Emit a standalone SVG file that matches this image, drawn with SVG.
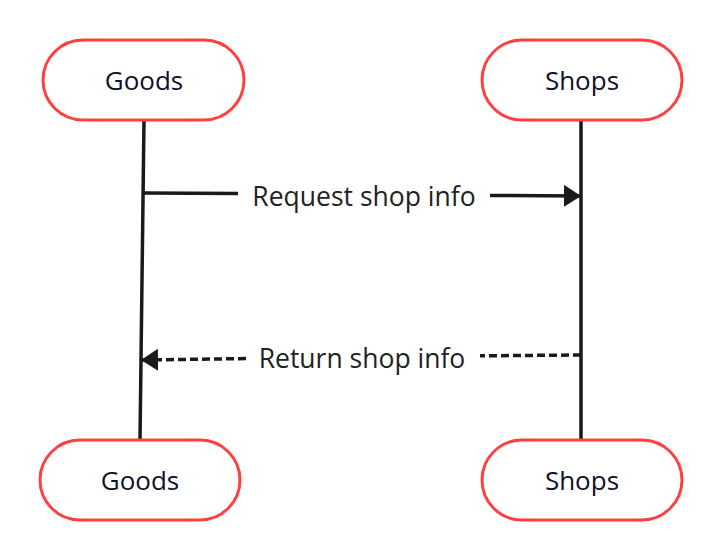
<svg xmlns="http://www.w3.org/2000/svg" width="722" height="560" viewBox="0 0 722 560">
<style>
.node rect{fill:#fff;stroke:#ff4040;stroke-width:3}
.node text{font-family:"Open Sans",sans-serif;font-size:26px;fill:#10102a;text-anchor:middle;dominant-baseline:central}
.lbl{font-family:"Open Sans",sans-serif;font-size:26.5px;fill:#222;text-anchor:middle;dominant-baseline:central}
.ln{stroke:#1a1a1a;stroke-width:3.5;fill:none}
.dash{stroke-dasharray:8,4}
</style>
<defs>
<marker id="ah" viewBox="0 0 17 22" refX="17" refY="11" markerWidth="17" markerHeight="22" markerUnits="userSpaceOnUse" orient="auto">
<path d="M0,0 L17,11 L0,22 Z" fill="#1a1a1a"/>
</marker>
</defs>
<rect width="722" height="560" fill="#fff"/>
<g id="connectors">
<line class="ln" x1="144" y1="120" x2="140" y2="440"/>
<line class="ln" x1="581" y1="120" x2="581" y2="440"/>
<path class="ln" d="M144,193 L238,193.6"/>
<path class="ln" d="M490,195.4 L581,196" marker-end="url(#ah)"/>
<text class="lbl" x="364" y="196">Request shop info</text>
<path class="ln dash" d="M581,355 L480,355.8"/>
<path class="ln dash" d="M246,358.6 L141,360" marker-end="url(#ah)"/>
<text class="lbl" x="362" y="358">Return shop info</text>
</g>
<g id="goods-top" class="node"><rect x="43" y="40" width="201" height="80" rx="40"/><text x="144" y="80">Goods</text></g>
<g id="shops-top" class="node"><rect x="482" y="40" width="200" height="80" rx="40"/><text x="582" y="80">Shops</text></g>
<g id="goods-bottom" class="node"><rect x="40" y="440" width="200" height="80" rx="40"/><text x="140" y="480">Goods</text></g>
<g id="shops-bottom" class="node"><rect x="482" y="440" width="200" height="80" rx="40"/><text x="582" y="480">Shops</text></g>
</svg>
